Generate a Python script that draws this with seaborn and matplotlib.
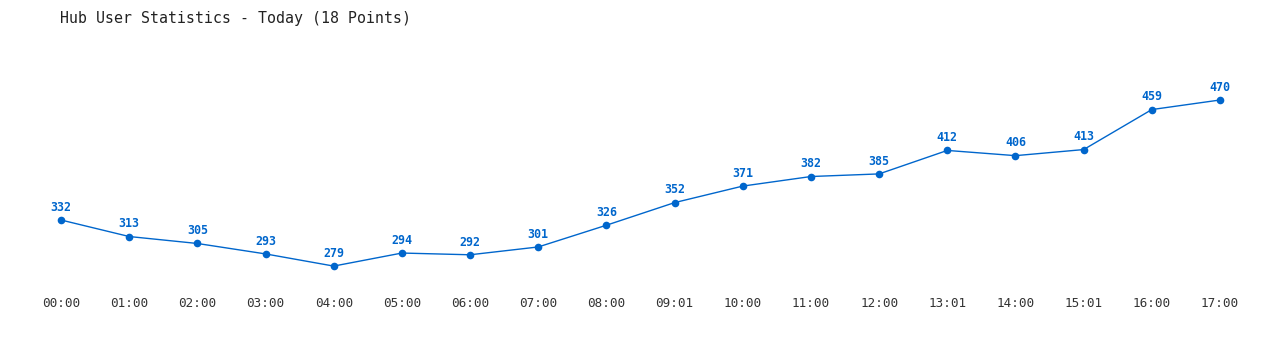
import matplotlib
matplotlib.use("Agg")
import matplotlib.pyplot as plt
import seaborn as sns
import pandas as pd

times = ["00:00", "01:00", "02:00", "03:00", "04:00", "05:00", "06:00", "07:00", "08:00",
         "09:01", "10:00", "11:00", "12:00", "13:01", "14:00", "15:01", "16:00", "17:00"]
users = [332, 313, 305, 293, 279, 294, 292, 301, 326, 352, 371, 382, 385, 412, 406, 413, 459, 470]
title = "Hub User Statistics - Today (18 Points)"

color = "#0066cc"
mono = ["DejaVu Sans Mono"]

sns.set_theme(style="white")
plt.rcParams['font.family'] = mono

df = pd.DataFrame({"idx": range(len(times)), "users": users})

W, H = 1280, 350
fig = plt.figure(figsize=(W / 100, H / 100), dpi=100)
top_px, bot_px = 40, 290
ax = fig.add_axes([0, 1 - bot_px / H, 1, (bot_px - top_px) / H])

sns.lineplot(data=df, x="idx", y="users", ax=ax, color=color, linewidth=1,
             marker="o", markersize=5.5, markeredgewidth=0, markerfacecolor=color)

ppu_x = (1220 - 61) / 17
ax.set_xlim(-61 / ppu_x, 17 + 60 / ppu_x)
ppu_y = (220 - 100) / (470 - 332)
ax.set_ylim(332 - (bot_px - 220) / ppu_y, 332 + (220 - top_px) / ppu_y)

for i, v in enumerate(users):
    ax.annotate(str(v), (i, v), xytext=(0, 4.5), textcoords="offset points",
                ha="center", va="bottom", color=color, fontsize=8.4,
                fontweight="bold", family=mono)

ax.set_xticks(range(len(times)))
ax.set_xticklabels(times, fontsize=9.1, color="#333333", family=mono)
ax.tick_params(axis="x", length=0, pad=5)
ax.set_yticks([])
ax.set_xlabel("")
ax.set_ylabel("")
for s in ax.spines.values():
    s.set_visible(False)

fig.text(60 / W, 1 - 18 / H, title, ha="left", va="center", fontsize=10.7,
         color="#222222", family=mono)

fig.savefig("out.png", dpi=100, facecolor="white")
